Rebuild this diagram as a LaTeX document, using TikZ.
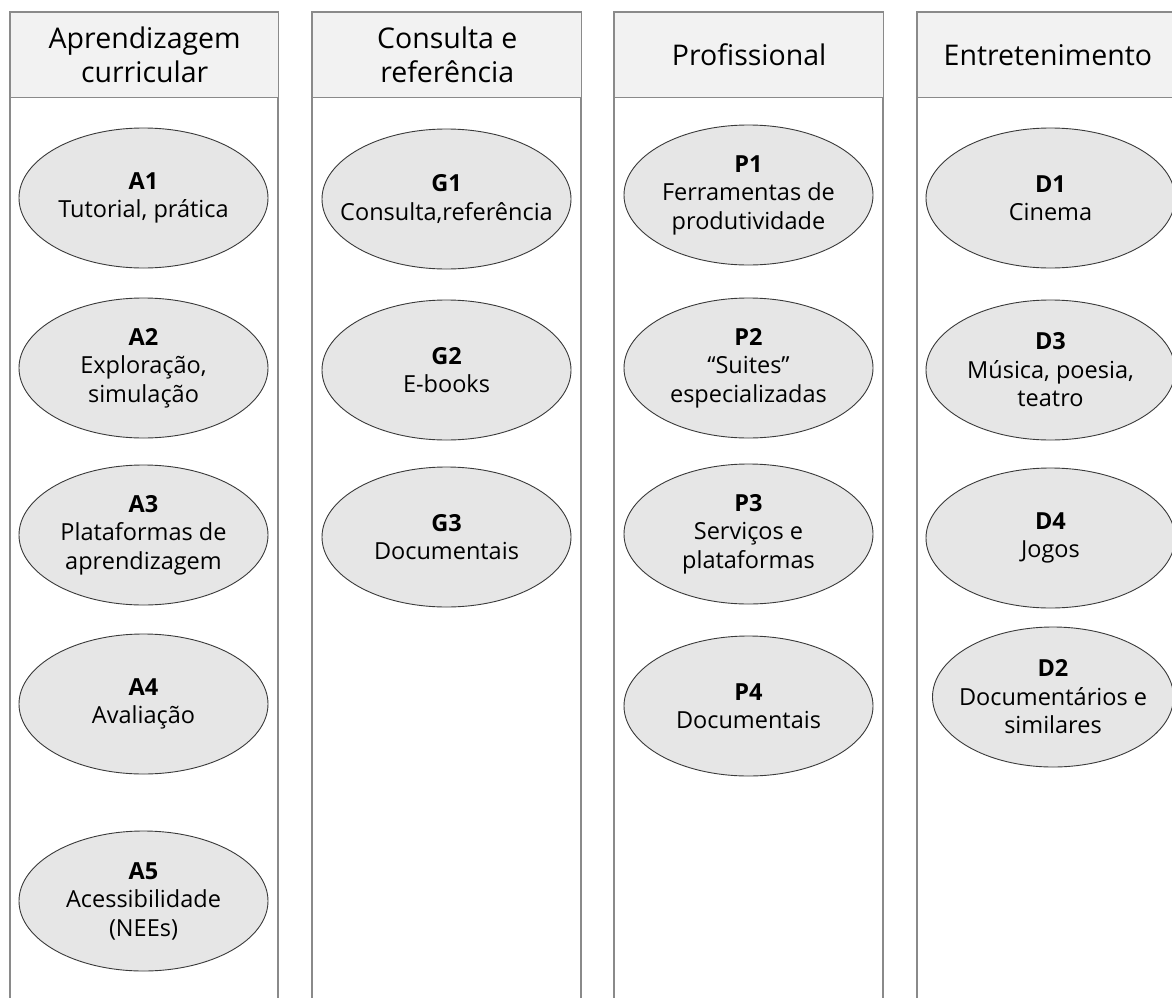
\documentclass[tikz,border=0pt]{standalone}
\usepackage{fontspec}
\setmainfont{Open Sans}
\usetikzlibrary{shapes.geometric}
\definecolor{lanegray}{HTML}{8A8A8A}
\definecolor{hdrfill}{HTML}{F2F2F2}
\definecolor{ellfill}{HTML}{E6E6E6}
\definecolor{ellline}{HTML}{3A3A3A}
\tikzset{
  lane/.style={draw=lanegray, line width=1.4pt, fill=white},
  hdr/.style={draw=lanegray, line width=1.4pt, fill=hdrfill, anchor=north west,
    minimum height=85pt, inner sep=0pt, align=center,
    font=\fontsize{28.5}{34}\selectfont},
  bubble/.style={ellipse, draw=ellline, line width=0.9pt, fill=ellfill,
    minimum width=249pt, minimum height=140pt, inner sep=0pt},
  txt/.style={align=center, inner sep=0pt, font=\fontsize{23.5}{28.5}\selectfont}
}
\begin{document}
\begin{tikzpicture}[x=1pt,y=-1pt]
\useasboundingbox (0,0) rectangle (1172,998);
\clip (0,0) rectangle (1172,998);
% lanes
\draw[lane] (10,12) rectangle (278,1010);
\draw[lane] (312,12) rectangle (581,1010);
\draw[lane] (614,12) rectangle (883,1010);
\draw[lane] (917,12) rectangle (1200,1010);
% headers
\node[hdr, minimum width=268pt] (H1) at (10,12) {Aprendizagem\\curricular};
\node[hdr, minimum width=269pt] (H2) at (312,12) {Consulta e\\referência};
\node[hdr, minimum width=269pt] (H3) at (614,12) {Profissional};
\node[hdr, minimum width=283pt, text width=255pt, align=flush left] (H4) at (917,12) {\hspace*{12pt}Entretenimento};
% column A
\node[bubble] (A1) at (143.5,198) {};
\node[txt] (A1t) at (A1) {\textbf{A1}\\Tutorial, prática};
\node[bubble] (A2) at (143.5,368) {};
\node[txt] (A2t) at (A2) {\textbf{A2}\\Exploração,\\simulação};
\node[bubble] (A3) at (143.5,535) {};
\node[txt] (A3t) at (A3) {\textbf{A3}\\Plataformas de\\aprendizagem};
\node[bubble] (A4) at (143.5,704) {};
\node[txt] (A4t) at (A4) {\textbf{A4}\\Avaliação};
\node[bubble] (A5) at (143.5,901) {};
\node[txt] (A5t) at (A5) {\textbf{A5}\\Acessibilidade\\(NEEs)};
% column G
\node[bubble] (G1) at (446.5,199) {};
\node[txt] (G1t) at (G1) {\textbf{G1}\\Consulta,referência};
\node[bubble] (G2) at (446.5,370) {};
\node[txt] (G2t) at (G2) {\textbf{G2}\\E-books};
\node[bubble] (G3) at (446.5,537) {};
\node[txt] (G3t) at (G3) {\textbf{G3}\\Documentais};
% column P
\node[bubble] (P1) at (748.5,195) {};
\node[txt] (P1t) at (P1) {\textbf{P1}\\Ferramentas de\\produtividade};
\node[bubble] (P2) at (748.5,368) {};
\node[txt] (P2t) at (P2) {\textbf{P2}\\“Suites”\\especializadas};
\node[bubble] (P3) at (748.5,534) {};
\node[txt] (P3t) at (P3) {\textbf{P3}\\Serviços e\\plataformas};
\node[bubble] (P4) at (748.5,706) {};
\node[txt] (P4t) at (P4) {\textbf{P4}\\Documentais};
% column D
\node[bubble] (D1) at (1050.5,198) {};
\node[txt] (D1t) at (D1) {\textbf{D1}\\Cinema};
\node[bubble] (D3) at (1050.5,370) {};
\node[txt] (D3t) at (D3) {\textbf{D3}\\Música, poesia,\\teatro};
\node[bubble] (D4) at (1050.5,538) {};
\node[txt] (D4t) at (D4) {\textbf{D4}\\Jogos};
\node[bubble, minimum width=241pt] (D2) at (1053,697) {};
\node[txt] (D2t) at (D2) {\textbf{D2}\\Documentários e\\similares};
\end{tikzpicture}
\end{document}
